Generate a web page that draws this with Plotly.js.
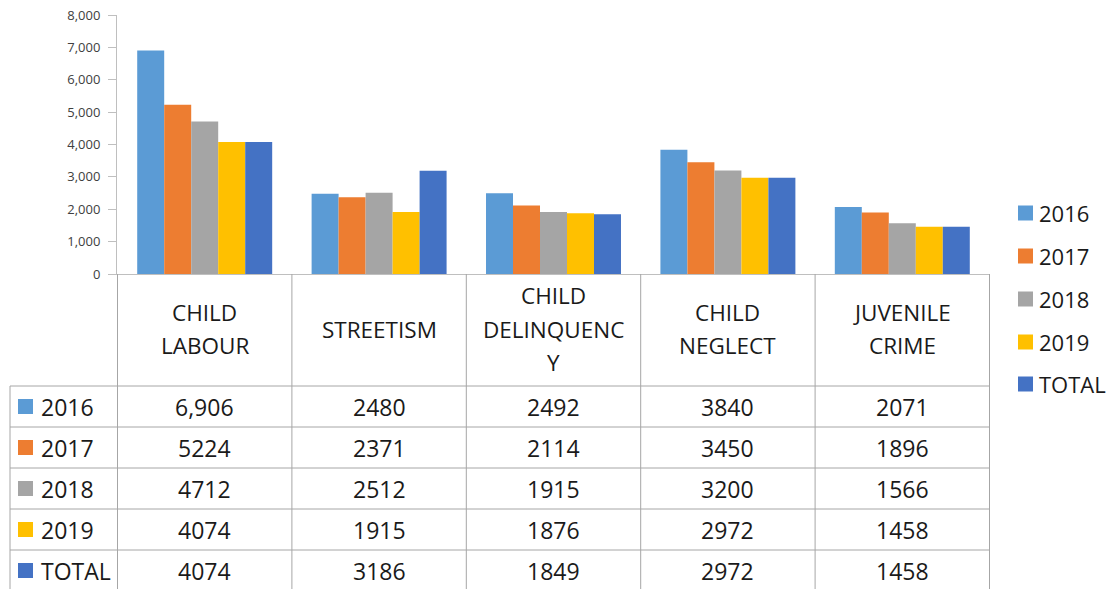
<!DOCTYPE html>
<html>
<head>
<meta charset="utf-8">
<script src="https://cdn.plot.ly/plotly-3.0.1.min.js"></script>
<style>html,body{margin:0;padding:0;background:#fff;}#chart{width:1115px;height:589px;}</style>
</head>
<body>
<div id="chart"></div>
<script>
const categories = ["CHILD LABOUR", "STREETISM", "CHILD DELINQUENCY", "CHILD NEGLECT", "JUVENILE CRIME"];
const headerLabels = ["CHILD<br>LABOUR", "STREETISM", "CHILD<br>DELINQUENC<br>Y", "CHILD<br>NEGLECT", "JUVENILE<br>CRIME"];
const seriesNames = ["2016", "2017", "2018", "2019", "TOTAL"];
const v2016 = [6906, 2480, 2492, 3840, 2071];
const v2017 = [5224, 2371, 2114, 3450, 1896];
const v2018 = [4712, 2512, 1915, 3200, 1566];
const v2019 = [4074, 1915, 1876, 2972, 1458];
const vTotal = [4074, 3186, 1849, 2972, 1458];
const yTicks = [0, 1000, 2000, 3000, 4000, 5000, 6000, 7000, 8000];
const series = [v2016, v2017, v2018, v2019, vTotal];
const colors = ["#5B9BD5", "#ED7D31", "#A5A5A5", "#FFC000", "#4472C4"];

// layout geometry (pixels)
const W = 1115, H = 589;
const mL = 117, mR = 125, mT = 15, mB = 315;
const plotW = W - mL - mR, plotH = H - mT - mB;
const axisY = H - mB;
const py = p => (axisY - p) / plotH;
const px = p => (p - mL) / plotW;

const headerBottom = 386;
const headerLineGap = 33.5;
const rowLines = [386, 427, 468, 509, 550, 591];
const tableLeft = 10;
const lineColor = "#a6a6a6";
const font = "Open Sans, Noto Sans, sans-serif";
const textColor = "#1a1a1a";

const traces = series.map((vals, i) => ({
  type: "bar",
  x: categories,
  y: vals,
  name: seriesNames[i],
  marker: {color: colors[i]},
  hoverinfo: "y",
  showlegend: false
}));

const shapes = [];
const annotations = [];
// vertical lines of table at category boundaries
for (let k = 0; k <= categories.length; k++) {
  shapes.push({type: "line", xref: "x", yref: "paper", x0: k - 0.5, x1: k - 0.5,
    y0: 0, y1: py(H + 2), line: {color: lineColor, width: 1}});
}
// left border of the row-label column
shapes.push({type: "line", xref: "paper", yref: "paper", x0: px(tableLeft), x1: px(tableLeft),
  y0: py(headerBottom), y1: py(H + 2), line: {color: lineColor, width: 1}});
// horizontal row lines
rowLines.forEach(r => {
  shapes.push({type: "line", xref: "paper", yref: "paper", x0: px(tableLeft), x1: 1,
    y0: py(r), y1: py(r), line: {color: lineColor, width: 1}});
});
// header labels (one annotation per text line for Excel-like line spacing)
const headerMid = (axisY + headerBottom) / 2 - 1;
headerLabels.forEach((t, k) => {
  const lines = t.split("<br>");
  lines.forEach((ln, j) => {
    const yc = headerMid + (j - (lines.length - 1) / 2) * headerLineGap;
    annotations.push({xref: "x", yref: "paper", x: k, y: py(yc),
      text: ln, showarrow: false, xanchor: "center", yanchor: "middle",
      font: {family: font, size: 22.5, color: textColor}});
  });
});
// table body
series.forEach((vals, i) => {
  const rowMid = (rowLines[i] + rowLines[i + 1]) / 2;
  const yc = py(rowMid);
  shapes.push({type: "rect", xref: "paper", yref: "paper",
    x0: px(18), x1: px(33), y0: py(rowMid - 7.5), y1: py(rowMid + 7.5),
    fillcolor: colors[i], line: {width: 0}});
  annotations.push({xref: "paper", yref: "paper", x: px(39), y: yc, text: seriesNames[i],
    showarrow: false, xanchor: "left", yanchor: "middle",
    font: {family: font, size: 23, color: textColor}});
  vals.forEach((v, k) => {
    const txt = (i === 0 && k === 0) ? v.toLocaleString("en-US") : String(v);
    annotations.push({xref: "x", yref: "paper", x: k, y: yc, text: txt,
      showarrow: false, xanchor: "center", yanchor: "middle",
      font: {family: font, size: 23, color: textColor}});
  });
});
// legend (drawn as key squares + labels)
const legendRows = [213, 256, 299, 342, 384];
seriesNames.forEach((n, i) => {
  const yc = legendRows[i];
  shapes.push({type: "rect", xref: "paper", yref: "paper",
    x0: px(1018), x1: px(1033), y0: py(yc - 7.5), y1: py(yc + 7.5),
    fillcolor: colors[i], line: {width: 0}});
  annotations.push({xref: "paper", yref: "paper", x: px(1037), y: py(yc), text: n,
    showarrow: false, xanchor: "left", yanchor: "middle",
    font: {family: font, size: 22, color: textColor}});
});

const layout = {
  width: W, height: H,
  margin: {l: mL, r: mR, t: mT, b: mB, pad: 0},
  paper_bgcolor: "#fff", plot_bgcolor: "#fff",
  barmode: "group", bargap: 0.226, bargroupgap: 0,
  xaxis: {type: "category", showticklabels: false, showline: true, linecolor: "#bfbfbf",
    linewidth: 1, ticks: "", showgrid: false, zeroline: false, fixedrange: true},
  yaxis: {range: [0, 8000], tickvals: yTicks, tickformat: ",", showgrid: false, zeroline: false,
    showline: true, linecolor: "#bfbfbf", linewidth: 1, ticks: "outside", ticklen: 8,
    tickcolor: "#bfbfbf", ticklabelstandoff: 5,
    tickfont: {family: font, size: 13, color: "#404040"}, fixedrange: true},
  showlegend: false,
  shapes: shapes,
  annotations: annotations
};

Plotly.newPlot("chart", traces, layout, {displayModeBar: false, staticPlot: true});
</script>
</body>
</html>
